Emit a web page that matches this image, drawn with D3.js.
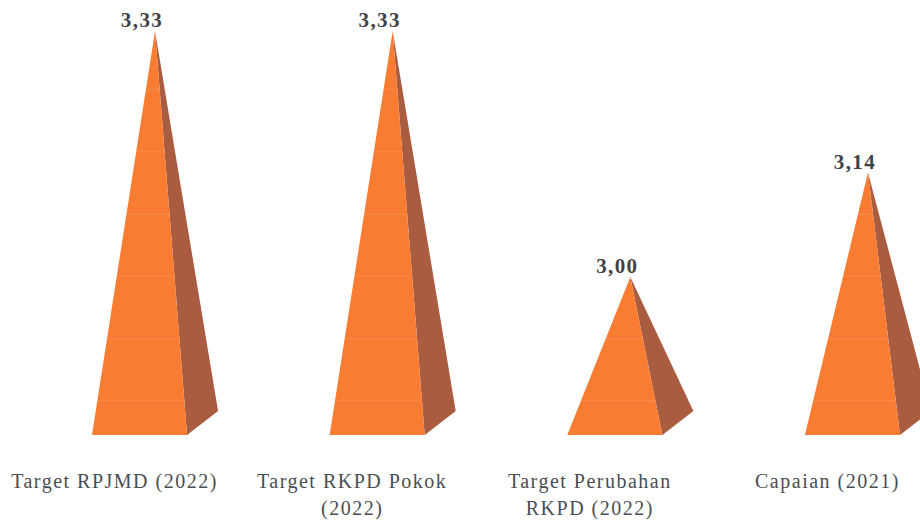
<!DOCTYPE html>
<html><head><meta charset="utf-8">
<script src="https://cdn.jsdelivr.net/npm/d3@7"></script>
<style>html,body{margin:0;padding:0;background:#fff}svg{display:block}text{font-family:"Liberation Serif",serif}</style>
</head><body><svg id="c" width="920" height="521"></svg>
<script>
const categories = ["Target RPJMD (2022)", "Target RKPD Pokok (2022)", "Target Perubahan RKPD (2022)", "Capaian (2021)"];
const categoryLines = [["Target RPJMD (2022)"], ["Target RKPD Pokok", "(2022)"], ["Target Perubahan", "RKPD (2022)"], ["Capaian (2021)"]];
const values = [3.33, 3.33, 3.00, 3.14];
const valueLabels = ["3,33", "3,33", "3,00", "3,14"];
const bands = [2.834, 2.917, 3.001, 3.084, 3.168, 3.252];
const axisMin = 2.788;

const svg = d3.select("#c");
const x = d3.scaleBand().domain(categories).range([92, 900]).paddingInner(0.6).paddingOuter(0);
const y = d3.scaleLinear().domain([axisMin, 3.33]).range([435, 31]);
const depthX = 31, depthY = 24, apexShift = 15.5;
const front = "#f97c33", side = "#a95c40", bandLine = "#fca66f";

const g = svg.selectAll("g.p").data(categories).join("g").attr("class", "p");
g.each(function (c, i) {
  const s = d3.select(this);
  const l = x(c), r = l + x.bandwidth(), b = y(axisMin), ax = (l + r) / 2 + apexShift, ay = y(values[i]);
  const path = d3.line();
  s.append("path").attr("d", path([[r, b], [r + depthX, b - depthY], [ax, ay]]) + "Z").attr("fill", side);
  s.append("path").attr("d", path([[l, b], [r, b], [ax, ay]]) + "Z").attr("fill", front);
  bands.filter(v => v < values[i]).forEach(v => {
    const t = (y(v) - b) / (ay - b);
    s.append("line").attr("x1", l + (ax - l) * t).attr("x2", r + (ax - r) * t)
      .attr("y1", y(v)).attr("y2", y(v)).attr("stroke", bandLine).attr("stroke-width", 1).attr("opacity", 0.4);
  });
  s.append("text").attr("x", (l + r) / 2 + 2.5).attr("y", ay - 4).attr("text-anchor", "middle")
    .attr("font-size", 21).attr("font-weight", 700).attr("fill", "#3f4347").attr("letter-spacing", 1.4)
    .text(valueLabels[i]);
  const cx = (l + r) / 2 - 25;
  categoryLines[i].forEach((t, k) => {
    s.append("text").attr("x", cx).attr("y", 488 + k * 27).attr("text-anchor", "middle")
      .attr("font-size", 20).attr("fill", "#4a4e52").attr("letter-spacing", 1.5).text(t);
  });
});
</script></body></html>
